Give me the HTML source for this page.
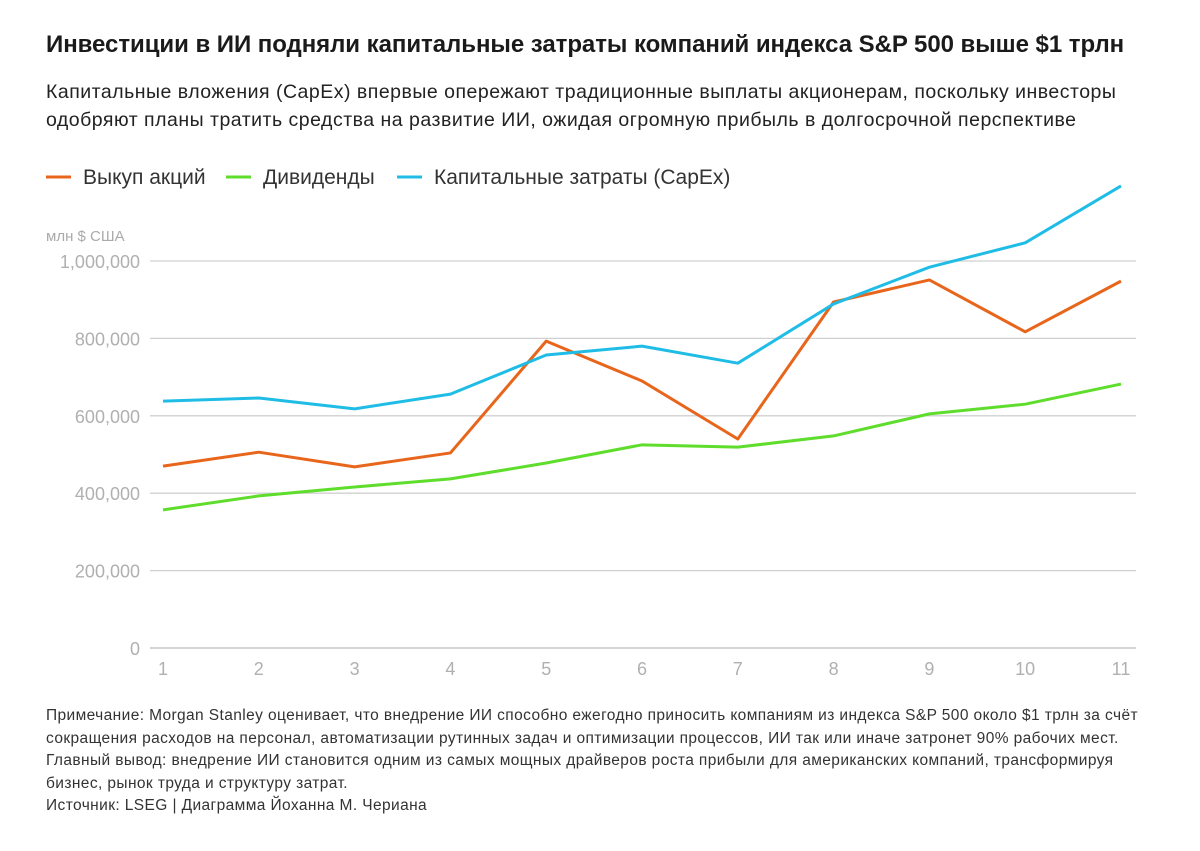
<!DOCTYPE html>
<html><head><meta charset="utf-8"><style>
body{margin:0;background:#fff;width:1200px;height:851px;overflow:hidden;font-family:"Liberation Sans","DejaVu Sans",sans-serif;color:#1a1a1a}
.t{position:absolute;left:46px;white-space:nowrap}
</style></head><body>
<div class="t" style="top:31px;font-size:24px;font-weight:bold;letter-spacing:-0.05px">Инвестиции в ИИ подняли капитальные затраты компаний индекса S&amp;P 500 выше $1 трлн</div>
<div class="t" style="top:78px;font-size:19.5px;line-height:28px;color:#222;letter-spacing:0.5px">Капитальные вложения (CapEx) впервые опережают традиционные выплаты акционерам, поскольку инвесторы<br>одобряют планы тратить средства на развитие ИИ, ожидая огромную прибыль в долгосрочной перспективе</div>
<svg id="c" width="1200" height="851" style="position:absolute;left:0;top:0"></svg>
<div class="t" style="top:705px;font-size:15.5px;line-height:22.5px;color:#333;letter-spacing:0.4px">Примечание: Morgan Stanley оценивает, что внедрение ИИ способно ежегодно приносить компаниям из индекса S&amp;P 500 около $1 трлн за счёт<br>сокращения расходов на персонал, автоматизации рутинных задач и оптимизации процессов, ИИ так или иначе затронет 90% рабочих мест.<br>Главный вывод: внедрение ИИ становится одним из самых мощных драйверов роста прибыли для американских компаний, трансформируя<br>бизнес, рынок труда и структуру затрат.<br>Источник: LSEG | Диаграмма Йоханна М. Чериана</div>
<script>
const categories=[1,2,3,4,5,6,7,8,9,10,11];
const buybacks=[470000,506000,468000,504000,793000,690000,540000,894000,951000,817000,948000];
const dividends=[357000,393000,416000,437000,478000,525000,519000,548000,605000,630000,682000];
const capex=[638000,646000,618000,656000,757000,780000,736000,889000,984000,1047000,1194000];
const yTicks=[0,200000,400000,600000,800000,1000000];
const yTickLabels=["0","200,000","400,000","600,000","800,000","1,000,000"];
const seriesNames=["Выкуп акций","Дивиденды","Капитальные затраты (CapEx)"];
const NS="http://www.w3.org/2000/svg",svg=document.getElementById('c');
const x=i=>163+(i-1)*(1121-163)/10;
const y=v=>648-v*(648-261)/1000000;
function el(t,a,p){const e=document.createElementNS(NS,t);for(const k in a)e.setAttribute(k,a[k]);(p||svg).appendChild(e);return e;}
yTicks.forEach((v,i)=>{
 const g=el('line',{x1:150,x2:1136,y1:y(v),y2:y(v),stroke:v===0?'#bbb':'#d0d0d0','stroke-width':1.3});
 
 
 const t=el('text',{x:140,y:y(v)+7,'text-anchor':'end','font-size':18,fill:'#b0b0b0'});
 t.textContent=yTickLabels[i];
 
 
});
const u=el('text',{x:46,y:241,'font-size':15,fill:'#aaa'});u.textContent='млн $ США';


categories.forEach(c=>{
 const t=el('text',{x:x(c),y:675,'text-anchor':'middle','font-size':18,fill:'#b0b0b0'});t.textContent=c;
 
 
});
const colors=['#e8661c','#5fdd2c','#1fbde6'];
[buybacks,dividends,capex].forEach((s,k)=>{
 const p=el('polyline',{points:s.map((v,i)=>x(categories[i])+','+y(v)).join(' '),fill:'none',stroke:colors[k],'stroke-width':3,'stroke-linejoin':'round'});
 
 
});
const lx=[46,226,397];
seriesNames.forEach((n,k)=>{
 const g=el('g',{});
 
 
 el('line',{x1:lx[k],x2:lx[k]+25,y1:177,y2:177,stroke:colors[k],'stroke-width':3},g);
 const t=el('text',{x:lx[k]+37,y:184,'font-size':21,fill:'#333'},g);t.textContent=n;
});
</script>
</body></html>
